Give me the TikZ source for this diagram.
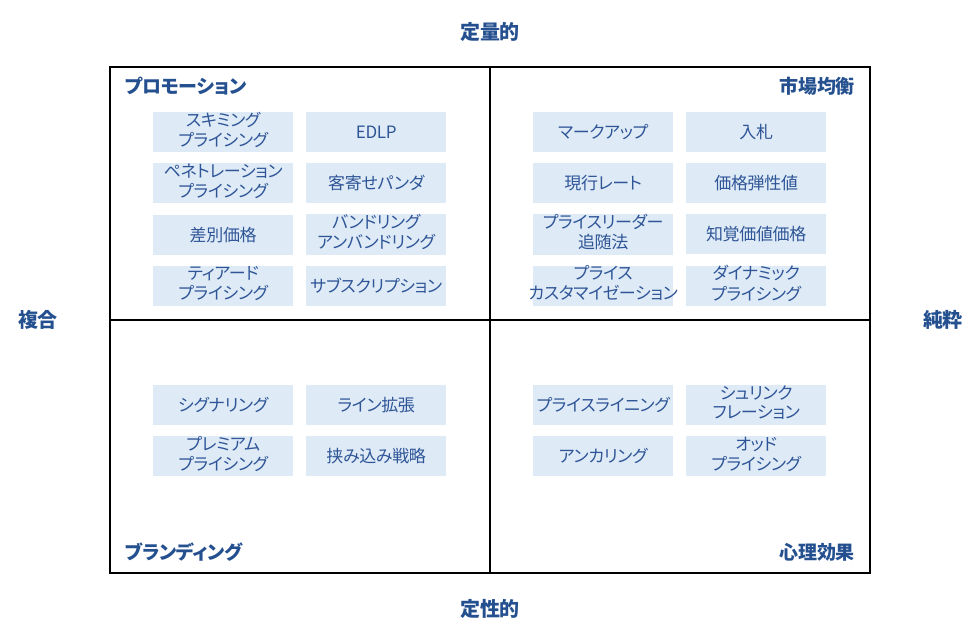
\documentclass[tikz,border=0pt]{standalone}
\usepackage{fontspec}
\setmainfont{Noto Sans CJK JP}[RawFeature=+palt,LetterSpace=-2]
\usetikzlibrary{matrix,positioning}
\definecolor{boxfill}{HTML}{DEEBF7}
\definecolor{boxtext}{HTML}{2F5597}
\definecolor{titletext}{HTML}{24508F}
% two-line box text, kept to the box width
\newcommand{\twoline}[2]{\makebox[140pt]{\begin{tabular}{@{}c@{}}#1\\#2\end{tabular}}}

\begin{document}
\begin{tikzpicture}[x=1pt,y=-1pt,
	axis/.style={font=\fontsize{20}{24}\selectfont\bfseries,text=titletext,inner sep=0pt},
	title/.style={font=\fontsize{19}{23}\selectfont\bfseries,text=titletext,inner sep=0pt},
	quad/.style={
		matrix of nodes,
		anchor=north west,
		inner sep=0pt,
		column sep=13pt,
		row sep=11pt,
		nodes={
			fill=boxfill, % General options for all boxes
			text=boxtext,
			font=\fontsize{17}{19.5}\selectfont,
			anchor=center,
			inner sep=0pt,
			minimum width=140pt,
			minimum height=40pt,
		},
	},
]
	\useasboundingbox (0,0) rectangle (980,640);

	% frame and dividing lines
	\draw[line width=1.5pt] (110,67) rectangle (870,573);
	\draw[line width=1.5pt] (490,67) -- (490,573);
	\draw[line width=1.5pt] (110,320) -- (870,320);

	% axis labels
	\node[axis] (quant) at (490,32) {定量的};
	\node[axis] (qual) at (490,609) {定性的};
	\node[axis] (mixed) at (38,320) {複合};
	\node[axis] (pure) at (943,320) {純粋};

	% quadrant titles
	\node[title,anchor=west] (promo) at (125,86) {プロモーション};
	\node[title,anchor=east] (market) at (855,86) {市場均衡};
	\node[title,anchor=west] (brand) at (125,552) {ブランディング};
	\node[title,anchor=east] (psych) at (855,552) {心理効果};

	\matrix (qa) [quad] at (153,112)
	{
		\twoline{スキミング}{プライシング} & EDLP \\
		\twoline{ペネトレーション}{プライシング} & 客寄せパンダ \\
		差別価格 & \twoline{バンドリング}{アンバンドリング} \\
		\twoline{ティアード}{プライシング} & サブスクリプション \\
	};
	\matrix (qb) [quad] at (533,112)
	{
		マークアップ & 入札 \\
		現行レート & 価格弾性値 \\
		\twoline{プライスリーダー}{追随法} & 知覚価値価格 \\
		\twoline{プライス}{カスタマイゼーション} & \twoline{ダイナミック}{プライシング} \\
	};
	\matrix (qc) [quad] at (153,385)
	{
		シグナリング & ライン拡張 \\
		\twoline{プレミアム}{プライシング} & 挟み込み戦略 \\
	};
	\matrix (qd) [quad] at (533,385)
	{
		プライスライニング & \twoline{シュリンク}{フレーション} \\
		アンカリング & \twoline{オッド}{プライシング} \\
	};

\end{tikzpicture}
\end{document}
